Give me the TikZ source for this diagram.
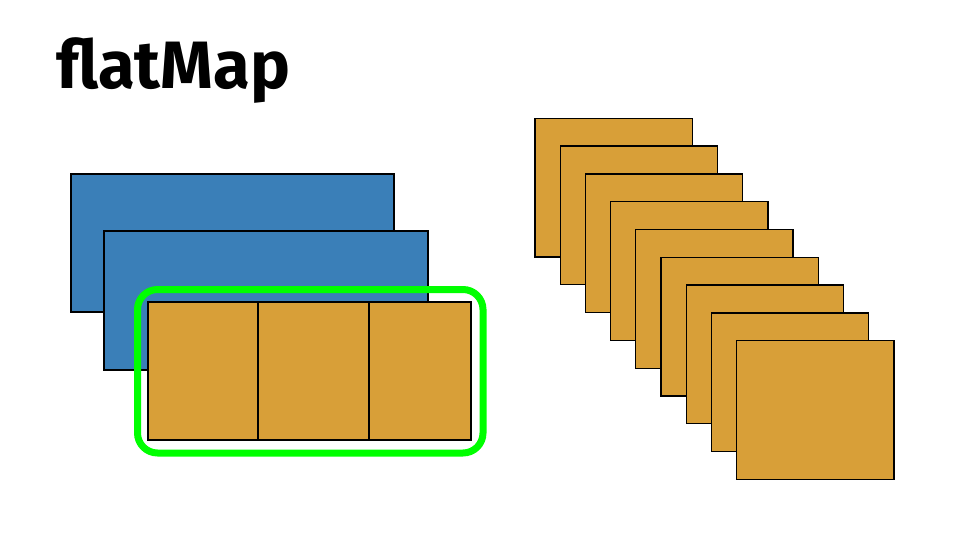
\documentclass[tikz,border=0pt]{standalone}
\usepackage{fontspec}
\setmainfont{Fira Sans}
\definecolor{blueA}{HTML}{3A7FB8}
\definecolor{orangeA}{HTML}{D89F38}
\definecolor{greenA}{HTML}{00FF00}
\tikzset{
  bluebox/.style={draw=black, fill=blueA, line width=1.3pt},
  orangebox/.style={draw=black, fill=orangeA, line width=1.3pt},
  greenframe/.style={draw=greenA, line width=7pt, rounded corners=20pt},
  titletext/.style={font=\fontsize{67}{75}\selectfont\bfseries, anchor=base west, inner sep=0pt}
}
\begin{document}
\begin{tikzpicture}[x=1pt,y=-1pt]
\useasboundingbox (0,0) rectangle (960,540);
\node[titletext] (title) at (56,89) {flatMap};
% left group
\draw[bluebox] (71,174) rectangle (394,312);
\draw[bluebox] (104,231) rectangle (428,370);
\draw[orangebox] (148,302) rectangle (258,440);
\draw[orangebox] (258,302) rectangle (369,440);
\draw[orangebox] (369,302) rectangle (471,440);
\draw[greenframe] (137.5,289.5) rectangle (483,453);
% right stack
\foreach \i in {0,...,8} {
  \draw[orangebox] ({535+25.2*\i},{118.3+27.8*\i}) rectangle ({692.3+25.2*\i},{257+27.8*\i});
}
\end{tikzpicture}
\end{document}
